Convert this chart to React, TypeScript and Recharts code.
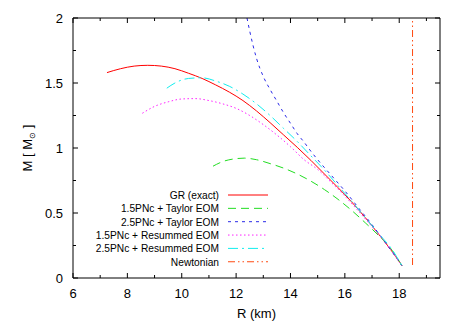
import { LineChart, Line, XAxis, YAxis, Legend } from 'recharts';

const X_TICKS = [6, 7, 8, 9, 10, 11, 12, 13, 14, 15, 16, 17, 18, 19];
const X_LABELS = [6, 8, 10, 12, 14, 16, 18];
const Y_TICKS = [0, 0.25, 0.5, 0.75, 1, 1.25, 1.5, 1.75, 2];
const Y_LABELS = [0, 0.5, 1, 1.5, 2];

// GR (exact)
const GR_R = [7.25, 7.75, 8.25, 8.75, 9.25, 9.75, 10.25, 10.75, 11.25, 11.75, 12.25, 12.75, 13.25, 13.75, 14.25, 14.75, 15.25, 15.75, 16.25, 16.75, 17.25, 17.75, 18.1];
const GR_M = [1.58, 1.61, 1.63, 1.636, 1.63, 1.61, 1.575, 1.535, 1.485, 1.43, 1.365, 1.285, 1.195, 1.1, 1.005, 0.905, 0.8, 0.695, 0.585, 0.465, 0.335, 0.2, 0.095];

// 1.5PNc + Taylor EOM
const T15_R = [11.15, 11.5, 12.0, 12.3, 12.75, 13.25, 13.75, 14.25, 14.75, 15.25, 15.75, 16.25, 16.75, 17.25, 17.75, 18.1];
const T15_M = [0.86, 0.895, 0.918, 0.922, 0.91, 0.88, 0.845, 0.8, 0.745, 0.68, 0.605, 0.52, 0.425, 0.325, 0.21, 0.095];

// 2.5PNc + Taylor EOM
const T25_R = [12.4, 12.5, 12.75, 13.0, 13.25, 13.5, 13.75, 14.0, 14.25, 14.5, 14.75, 15.0, 15.5, 16.0, 16.5, 17.0, 17.5, 18.1];
const T25_M = [2.0, 1.9, 1.69, 1.55, 1.45, 1.36, 1.27, 1.19, 1.11, 1.045, 0.975, 0.91, 0.79, 0.67, 0.54, 0.41, 0.27, 0.095];

// 1.5PNc + Resummed EOM
const R15_R = [8.55, 9.0, 9.5, 10.0, 10.5, 11.0, 11.5, 12.0, 12.5, 13.0, 13.5, 14.0, 14.5, 15.0, 15.5, 16.0, 16.5, 17.0, 17.5, 18.1];
const R15_M = [1.267, 1.32, 1.355, 1.377, 1.38, 1.365, 1.34, 1.305, 1.25, 1.18, 1.1, 1.01, 0.91, 0.835, 0.735, 0.63, 0.515, 0.395, 0.27, 0.095];

// 2.5PNc + Resummed EOM
const R25_R = [9.45, 9.75, 10.25, 10.75, 11.25, 11.75, 12.25, 12.75, 13.25, 13.75, 14.25, 14.75, 15.25, 15.75, 16.25, 16.75, 17.25, 17.75, 18.1];
const R25_M = [1.46, 1.5, 1.535, 1.54, 1.515, 1.475, 1.415, 1.34, 1.25, 1.15, 1.05, 0.94, 0.83, 0.71, 0.59, 0.465, 0.34, 0.215, 0.095];

// Newtonian
const NEWT_R = [18.49, 18.49];
const NEWT_M = [0.1, 2.0];

const pts = (r: number[], m: number[]) => r.map((v, i) => ({ r: v, m: m[i] }));

const SERIES = [
  { name: 'GR (exact)', data: pts(GR_R, GR_M), color: '#ff0000', dash: undefined },
  { name: '1.5PNc + Taylor EOM', data: pts(T15_R, T15_M), color: '#22dd22', dash: '8 5' },
  { name: '2.5PNc + Taylor EOM', data: pts(T25_R, T25_M), color: '#2a2ae8', dash: '3 4' },
  { name: '1.5PNc + Resummed EOM', data: pts(R15_R, R15_M), color: '#ff22ff', dash: '1.5 2.5' },
  { name: '2.5PNc + Resummed EOM', data: pts(R25_R, R25_M), color: '#11eeee', dash: '10 4 2 4' },
  { name: 'Newtonian', data: pts(NEWT_R, NEWT_M), color: '#ff4a10', dash: '7 3 1.5 3 1.5 3' },
];

const FONT = '"Liberation Sans", Arial, sans-serif';

function BottomTick({ x, y, payload }: any) {
  const major = X_LABELS.includes(payload.value);
  return (
    <g>
      <line x1={x} x2={x} y1={y} y2={y - (major ? 5 : 3)} stroke="#000" />
      {major && (
        <text x={x} y={y + 20} textAnchor="middle" fontSize={13} fontFamily={FONT} fill="#000">
          {payload.value}
        </text>
      )}
    </g>
  );
}

function TopTick({ x, y, payload }: any) {
  const major = X_LABELS.includes(payload.value);
  return <line x1={x} x2={x} y1={y} y2={y + (major ? 5 : 3)} stroke="#000" />;
}

function LeftTick({ x, y, payload }: any) {
  const major = Y_LABELS.includes(payload.value);
  return (
    <g>
      <line x1={x} x2={x + (major ? 5 : 3)} y1={y} y2={y} stroke="#000" />
      {major && (
        <text x={x - 10} y={y + 5} textAnchor="end" fontSize={13} fontFamily={FONT} fill="#000">
          {payload.value}
        </text>
      )}
    </g>
  );
}

function RightTick({ x, y, payload }: any) {
  const major = Y_LABELS.includes(payload.value);
  return <line x1={x} x2={x - (major ? 5 : 3)} y1={y} y2={y} stroke="#000" />;
}

function YTitle({ viewBox }: any) {
  const cx = 32;
  const cy = viewBox.y + viewBox.height / 2;
  return (
    <text x={cx} y={cy} transform={`rotate(-90 ${cx} ${cy})`} textAnchor="middle" fontSize={13} fontFamily={FONT} fill="#000">
      M [ M<tspan fontSize={8} dy={3}>⊙</tspan><tspan dy={-3}> ]</tspan>
    </text>
  );
}

function XTitle({ viewBox }: any) {
  const cx = viewBox.x + viewBox.width / 2;
  return (
    <text x={cx} y={318} textAnchor="middle" fontSize={13} fontFamily={FONT} fill="#000">
      R (km)
    </text>
  );
}

function ChartLegend() {
  return (
    <svg width={220} height={90}>
      {SERIES.map((s, i) => {
        const cy = 10 + i * 13.35;
        return (
          <g key={s.name}>
            <text x={139} y={cy + 4} textAnchor="end" fontSize={10.2} fontFamily={FONT} fill="#000">
              {s.name}
            </text>
            <line x1={148} x2={188} y1={cy} y2={cy} stroke={s.color} strokeDasharray={s.dash} />
          </g>
        );
      })}
    </svg>
  );
}

export default function App() {
  return (
    <div style={{ position: 'absolute', left: 0, top: 0, width: 467, height: 327, background: '#fff' }}>
      <LineChart width={467} height={327} margin={{ top: 0, right: 0, bottom: 0, left: 0 }}>
        <XAxis
          xAxisId="b"
          dataKey="r"
          type="number"
          domain={[6, 19.5]}
          ticks={X_TICKS}
          interval={0}
          height={49}
          tickSize={0}
          tickMargin={0}
          tickLine={false}
          axisLine={{ stroke: '#000' }}
          tick={<BottomTick />}
          label={<XTitle />}
          allowDataOverflow
        />
        <XAxis
          xAxisId="t"
          orientation="top"
          dataKey="r"
          type="number"
          domain={[6, 19.5]}
          ticks={X_TICKS}
          interval={0}
          height={18}
          tickSize={0}
          tickMargin={0}
          tickLine={false}
          axisLine={{ stroke: '#000' }}
          tick={<TopTick />}
          allowDataOverflow
        />
        <YAxis
          yAxisId="l"
          type="number"
          domain={[0, 2]}
          ticks={Y_TICKS}
          interval={0}
          width={73}
          tickSize={0}
          tickMargin={0}
          tickLine={false}
          axisLine={{ stroke: '#000' }}
          tick={<LeftTick />}
          label={<YTitle />}
          allowDataOverflow
        />
        <YAxis
          yAxisId="r"
          orientation="right"
          type="number"
          domain={[0, 2]}
          ticks={Y_TICKS}
          interval={0}
          width={27}
          tickSize={0}
          tickMargin={0}
          tickLine={false}
          axisLine={{ stroke: '#000' }}
          tick={<RightTick />}
          allowDataOverflow
        />
        {SERIES.map((s) => (
          <Line
            key={s.name}
            xAxisId="b"
            yAxisId="l"
            data={s.data}
            dataKey="m"
            name={s.name}
            stroke={s.color}
            strokeWidth={1}
            strokeDasharray={s.dash}
            dot={false}
            type="monotone"
            isAnimationActive={false}
          />
        ))}
        <Legend
          layout="horizontal"
          verticalAlign="middle"
          align="center"
          content={<ChartLegend />}
          wrapperStyle={{ position: 'absolute', left: 80, top: 185, width: 220, height: 90 }}
        />
      </LineChart>
    </div>
  );
}
